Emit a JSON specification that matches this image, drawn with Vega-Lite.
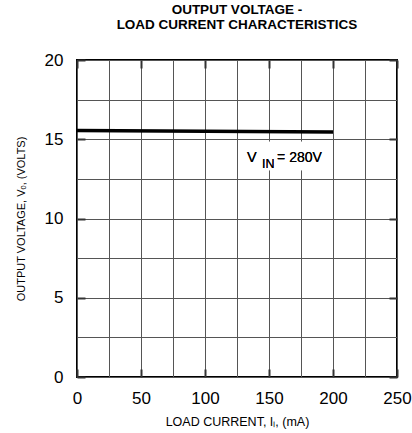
{
  "$schema": "https://vega.github.io/schema/vega-lite/v6.json",
  "width": 320,
  "height": 317,
  "autosize": {"type": "none"},
  "padding": {"left": 77, "top": 60, "right": 15, "bottom": 56},
  "background": "white",
  "config": {
    "font": "Liberation Sans",
    "view": {"stroke": "black", "strokeWidth": 2},
    "axis": {
      "domain": false,
      "labelFont": "Liberation Sans",
      "labelFontSize": 17,
      "labelColor": "black",
      "labelFlush": false,
      "titleFont": "Liberation Sans",
      "titleFontWeight": "normal",
      "titleColor": "black"
    }
  },
  "title": {
    "text": ["OUTPUT VOLTAGE -", "LOAD CURRENT CHARACTERISTICS"],
    "fontSize": 13.5,
    "fontWeight": "bold",
    "font": "Liberation Sans",
    "color": "black",
    "lineHeight": 15,
    "anchor": "middle",
    "offset": 20
  },
  "resolve": {"axis": {"x": "independent", "y": "independent"}},
  "data": {"values": [
    {"current": 0, "voltage": 15.55},
    {"current": 200, "voltage": 15.45}
  ]},
  "layer": [
    {
      "mark": {"type": "line", "color": "black", "strokeWidth": 3.5},
      "encoding": {
        "x": {
          "field": "current", "type": "quantitative",
          "scale": {"domain": [0, 250], "nice": false},
          "axis": {
            "values": [0, 25, 50, 75, 100, 125, 150, 175, 200, 225, 250],
            "labelExpr": "datum.value % 50 === 0 ? datum.label : ''",
            "grid": true,
            "gridColor": "#555555",
            "gridWidth": 1,
            "gridOpacity": 1,
            "ticks": true,
            "tickSize": -8,
            "tickWidth": 2,
            "tickColor": "#333333",
            "tickOpacity": {"condition": {"test": "datum.value % 50 === 0", "value": 1}, "value": 0},
            "labelPadding": 21,
            "title": "LOAD CURRENT, I\u2097, (mA)",
            "titleFontSize": 12.5,
            "titlePadding": 9
          }
        },
        "y": {
          "field": "voltage", "type": "quantitative",
          "scale": {"domain": [0, 20], "nice": false},
          "axis": {
            "values": [0, 2.5, 5, 7.5, 10, 12.5, 15, 17.5, 20],
            "labelExpr": "datum.value % 5 === 0 ? datum.label : ''",
            "grid": true,
            "gridColor": "#555555",
            "gridWidth": 1,
            "gridOpacity": 1,
            "ticks": true,
            "tickSize": -8,
            "tickWidth": 2,
            "tickColor": "#333333",
            "tickOpacity": {"condition": {"test": "datum.value % 5 === 0", "value": 1}, "value": 0},
            "labelPadding": 22,
            "title": "OUTPUT  VOLTAGE, V\u2092, (VOLTS)",
            "titleFontSize": 11,
            "titlePadding": 18
          }
        }
      }
    },
    {
      "mark": {"type": "rect", "fill": "white", "stroke": null},
      "encoding": {
        "x": {
          "datum": 129, "type": "quantitative",
          "axis": {
            "orient": "top",
            "values": [0, 50, 100, 150, 200, 250],
            "labels": false, "grid": false, "title": null,
            "ticks": true, "tickSize": -8, "tickWidth": 2, "tickColor": "#333333"
          }
        },
        "x2": {"datum": 195},
        "y": {
          "datum": 13.05, "type": "quantitative",
          "axis": {
            "orient": "right",
            "values": [0, 5, 10, 15, 20],
            "labels": false, "grid": false, "title": null,
            "ticks": true, "tickSize": -8, "tickWidth": 2, "tickColor": "#333333"
          }
        },
        "y2": {"datum": 14.85}
      }
    },
    {
      "mark": {"type": "text", "text": "V", "fontSize": 14.5, "align": "left", "baseline": "alphabetic", "color": "black"},
      "encoding": {
        "x": {"datum": 132.8, "type": "quantitative", "axis": null},
        "y": {"datum": 13.56, "type": "quantitative", "axis": null}
      }
    },
    {
      "mark": {"type": "text", "text": "IN", "fontSize": 12.5, "align": "left", "baseline": "alphabetic", "color": "black"},
      "encoding": {
        "x": {"datum": 144.5, "type": "quantitative", "axis": null},
        "y": {"datum": 13.19, "type": "quantitative", "axis": null}
      }
    },
    {
      "mark": {"type": "text", "text": "= 280V", "fontSize": 14, "align": "left", "baseline": "alphabetic", "color": "black"},
      "encoding": {
        "x": {"datum": 156.3, "type": "quantitative", "axis": null},
        "y": {"datum": 13.56, "type": "quantitative", "axis": null}
      }
    }
  ]
}
